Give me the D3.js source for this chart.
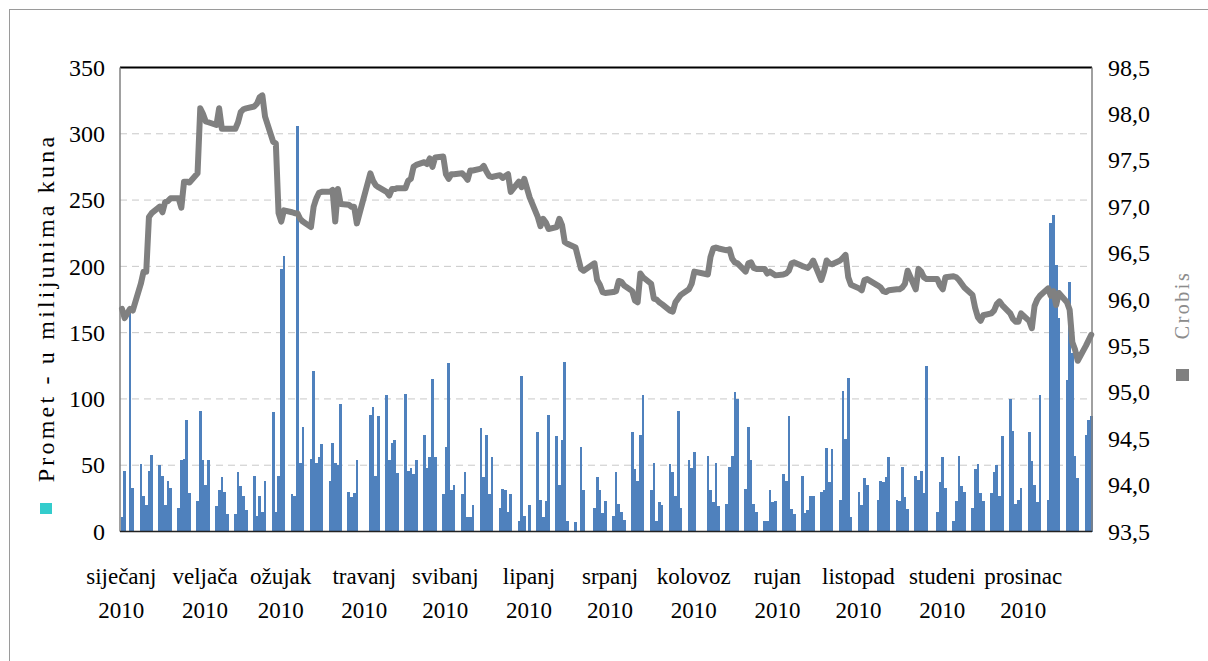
<!DOCTYPE html>
<html>
<head>
<meta charset="utf-8">
<script src="https://cdnjs.cloudflare.com/ajax/libs/d3/7.8.5/d3.min.js"></script>
<style>
  body { margin: 0; background: #fff; }
  svg text { font-family: "Liberation Serif", "Times New Roman", serif; }
</style>
</head>
<body>
<script>
(function() {

  // months on the axis and the year line under them
  const months = ["siječanj", "veljača", "ožujak", "travanj", "svibanj", "lipanj",
                  "srpanj", "kolovoz", "rujan", "listopad", "studeni", "prosinac"];
  const yearLabel = "2010";

  // days with no trading (holidays, exchange closed)
  const closedDays = ["2010-01-06", "2010-04-02", "2010-04-05", "2010-06-03", "2010-06-22",
                      "2010-06-25", "2010-08-05", "2010-08-06", "2010-10-08", "2010-11-01"];

  // daily turnover, million kuna (one row per month)
  const turnover = [
    [11, 46, 168, 33, 51, 27, 20, 46, 58, 50, 42, 20, 38, 33, 18, 54, 55, 84, 29],
    [23, 91, 54, 35, 54, 19, 31, 41, 30, 13, 13, 45, 34, 27, 16, 42, 12, 27, 15, 38],
    [90, 15, 42, 198, 208, 28, 27, 306, 52, 79, 55, 121, 52, 56, 66, 38, 67, 52, 50, 96, 30, 26, 29],
    [54, 88, 94, 42, 87, 103, 54, 67, 69, 44, 104, 46, 48, 43, 54, 73, 48, 56, 115, 56],
    [28, 64, 127, 31, 35, 28, 45, 11, 11, 20, 78, 41, 73, 28, 56, 18, 32, 31, 15, 28, 8],
    [117, 12, 20, 75, 24, 11, 23, 88, 72, 35, 69, 128, 8, 7, 64, 31, 18, 41, 31],
    [14, 23, 12, 45, 21, 15, 9, 75, 47, 38, 73, 103, 31, 52, 8, 22, 20, 51, 45, 27, 91, 18],
    [54, 48, 60, 57, 31, 22, 52, 19, 21, 49, 57, 105, 100, 32, 79, 54, 21, 15, 8, 8],
    [31, 22, 23, 43, 38, 87, 17, 13, 42, 14, 16, 27, 27, 30, 31, 63, 37, 62, 24, 106, 70, 116],
    [11, 30, 20, 40, 35, 24, 38, 37, 41, 56, 24, 23, 49, 26, 17, 42, 39, 46, 29, 125],
    [15, 37, 56, 33, 8, 23, 57, 34, 30, 18, 47, 51, 29, 23, 29, 45, 50, 27, 72, 100, 76],
    [21, 24, 33, 75, 53, 35, 22, 103, 24, 233, 239, 201, 161, 114, 188, 135, 57, 40, 73, 84, 87]
  ];

  // Crobis index, same days
  const crobis = [
    [95.9, 95.8, 95.9, 95.88, 96.17, 96.3, 96.3, 96.89, 96.93, 97.0, 96.94, 97.05, 97.06, 97.09, 97.09, 96.99, 97.27, 97.27, 97.26],
    [97.36, 98.06, 98.0, 97.92, 97.91, 97.88, 98.06, 97.84, 97.84, 97.84, 97.84, 97.91, 98.02, 98.05, 98.06, 98.08, 98.11, 98.18, 98.2, 97.97],
    [97.7, 97.68, 96.93, 96.84, 96.96, 96.94, 96.93, 96.93, 96.87, 96.84, 96.78, 97.0, 97.09, 97.15, 97.16, 97.16, 97.18, 96.84, 97.19, 97.03, 97.02, 97.0, 97.0],
    [96.82, 97.36, 97.28, 97.23, 97.21, 97.16, 97.12, 97.19, 97.19, 97.2, 97.2, 97.28, 97.3, 97.43, 97.45, 97.48, 97.46, 97.52, 97.43, 97.53],
    [97.54, 97.35, 97.3, 97.35, 97.35, 97.36, 97.33, 97.29, 97.39, 97.39, 97.41, 97.44, 97.38, 97.33, 97.32, 97.34, 97.31, 97.33, 97.35, 97.16, 97.27],
    [97.21, 97.3, 97.1, 96.89, 96.79, 96.87, 96.83, 96.76, 96.78, 96.87, 96.8, 96.62, 96.6, 96.56, 96.33, 96.31, 96.39, 96.21, 96.16],
    [96.08, 96.07, 96.08, 96.09, 96.2, 96.19, 96.15, 96.09, 95.99, 95.97, 96.28, 96.24, 96.17, 96.01, 96.0, 95.97, 95.95, 95.88, 95.87, 95.97, 96.01, 96.05],
    [96.11, 96.17, 96.3, 96.27, 96.46, 96.55, 96.56, 96.55, 96.53, 96.54, 96.44, 96.4, 96.39, 96.3, 96.39, 96.4, 96.34, 96.33, 96.33, 96.28],
    [96.3, 96.28, 96.26, 96.27, 96.28, 96.31, 96.39, 96.4, 96.36, 96.35, 96.34, 96.37, 96.42, 96.21, 96.3, 96.42, 96.39, 96.38, 96.42, 96.45, 96.48, 96.24],
    [96.16, 96.12, 96.1, 96.21, 96.22, 96.15, 96.13, 96.09, 96.08, 96.1, 96.11, 96.11, 96.13, 96.17, 96.31, 96.11, 96.33, 96.3, 96.24, 96.22],
    [96.22, 96.15, 96.11, 96.24, 96.25, 96.24, 96.21, 96.17, 96.13, 96.05, 95.91, 95.81, 95.77, 95.83, 95.85, 95.88, 95.95, 95.98, 95.94, 95.85, 95.79],
    [95.76, 95.76, 95.85, 95.77, 95.69, 95.93, 96.0, 96.04, 96.12, 96.04, 96.09, 95.94, 96.07, 95.97, 95.89, 95.54, 95.46, 95.34, 95.5, 95.56, 95.62]
  ];

  const leftTicks = [0, 50, 100, 150, 200, 250, 300, 350];
  const rightTicks = [93.5, 94.0, 94.5, 95.0, 95.5, 96.0, 96.5, 97.0, 97.5, 98.0, 98.5];

  /* build the trading days list */
  const firstDay = new Date(2010, 0, 4),
        lastDay = new Date(2010, 11, 29);
  const closed = new Set(closedDays);
  const fmt = d3.timeFormat("%Y-%m-%d");
  const days = d3.timeDay.range(firstDay, d3.timeDay.offset(lastDay, 1))
    .filter(d => d.getDay() !== 0 && d.getDay() !== 6 && !closed.has(fmt(d)));

  const flatT = turnover.flat(), flatC = crobis.flat();
  if (days.length !== flatT.length || days.length !== flatC.length) {
    console.error("length mismatch", days.length, flatT.length, flatC.length);
  }
  const data = days.map((d, i) => ({date: d, t: flatT[i], c: flatC[i]}));

  /* chart */
  const W = 1208, H = 661;
  const plot = {left: 120, right: 1092, top: 67.5, bottom: 531.5};

  const x = d3.scaleTime()
      .domain([firstDay, d3.timeDay.offset(lastDay, 1)])
      .range([plot.left, plot.right]);
  const slot = x(d3.timeDay.offset(firstDay, 1)) - x(firstDay);

  const yL = d3.scaleLinear().domain([0, 350]).range([plot.bottom, plot.top]);
  const yR = d3.scaleLinear().domain([93.5, 98.5]).range([plot.bottom, plot.top]);

  const svg = d3.select("body").append("svg")
      .attr("width", W)
      .attr("height", H);

  // outer chart frame (only top and left show in the picture)
  svg.append("rect")
      .attr("x", 9.5).attr("y", 9.5)
      .attr("width", W + 20).attr("height", H + 20)
      .attr("fill", "#fff")
      .attr("stroke", "#9a9a9a")
      .attr("stroke-width", 1);

  // gridlines
  svg.append("g")
    .selectAll("line")
    .data(leftTicks.filter(v => v > 0 && v < 350))
    .enter().append("line")
      .attr("x1", plot.left).attr("x2", plot.right)
      .attr("y1", d => yL(d)).attr("y2", d => yL(d))
      .attr("stroke", "#c8c8c8")
      .attr("stroke-width", 1)
      .attr("stroke-dasharray", "7,5");

  // bars
  svg.append("g")
      .attr("shape-rendering", "crispEdges")
    .selectAll("rect")
    .data(data)
    .enter().append("rect")
      .attr("x", d => x(d.date) + 0.6)
      .attr("y", d => yL(d.t))
      .attr("width", slot)
      .attr("height", d => yL(0) - yL(d.t))
      .attr("fill", "#4f81bd");

  // Crobis line
  const line = d3.line()
      .x(d => x(d.date) + 0.6 + slot / 2)
      .y(d => yR(d.c));

  svg.append("path")
      .datum(data)
      .attr("d", line)
      .attr("fill", "none")
      .attr("stroke", "#808080")
      .attr("stroke-width", 6)
      .attr("stroke-linejoin", "round")
      .attr("stroke-linecap", "round");

  // plot frame
  svg.append("line")
      .attr("x1", plot.left).attr("x2", plot.right)
      .attr("y1", plot.top).attr("y2", plot.top)
      .attr("stroke", "#000").attr("stroke-width", 2);
  svg.append("line")
      .attr("x1", plot.left).attr("x2", plot.left)
      .attr("y1", plot.top).attr("y2", plot.bottom)
      .attr("stroke", "#808080").attr("stroke-width", 1.5);
  svg.append("line")
      .attr("x1", plot.right).attr("x2", plot.right)
      .attr("y1", plot.top).attr("y2", plot.bottom)
      .attr("stroke", "#808080").attr("stroke-width", 1.5);
  svg.append("line")
      .attr("x1", plot.left).attr("x2", plot.right)
      .attr("y1", plot.bottom).attr("y2", plot.bottom)
      .attr("stroke", "#222").attr("stroke-width", 1.5);

  // left axis
  const axL = svg.append("g")
      .attr("transform", "translate(" + plot.left + ",0)")
      .call(d3.axisLeft(yL).tickValues(leftTicks).tickSize(0).tickPadding(15));
  axL.select(".domain").remove();
  axL.selectAll("text")
      .attr("font-family", "Liberation Serif")
      .attr("font-size", 24)
      .attr("fill", "#000");

  // right axis
  const axR = svg.append("g")
      .attr("transform", "translate(" + plot.right + ",0)")
      .call(d3.axisRight(yR).tickValues(rightTicks).tickSize(0).tickPadding(16)
        .tickFormat(d => d3.format(".1f")(d).replace(".", ",")));
  axR.select(".domain").remove();
  axR.selectAll("text")
      .attr("font-family", "Liberation Serif")
      .attr("font-size", 24)
      .attr("fill", "#000");

  // month labels at the 4th of each month
  const xl = svg.append("g");
  months.forEach(function(m, i) {
    const cx = x(new Date(2010, i, 4)) + slot / 2;
    xl.append("text")
        .attr("x", cx).attr("y", 584)
        .attr("text-anchor", "middle")
        .attr("font-size", 23)
        .text(m);
    xl.append("text")
        .attr("x", cx).attr("y", 618)
        .attr("text-anchor", "middle")
        .attr("font-size", 23)
        .text(yearLabel);
  });

  // left axis title with its legend key
  svg.append("text")
      .attr("transform", "translate(54,308)rotate(-90)")
      .attr("text-anchor", "middle")
      .attr("font-size", 24)
      .attr("letter-spacing", "3.2px")
      .text("Promet - u milijunima kuna");
  svg.append("rect")
      .attr("x", 40).attr("y", 503)
      .attr("width", 12).attr("height", 11)
      .attr("fill", "#33cccc");

  // right legend
  svg.append("text")
      .attr("transform", "translate(1189,305)rotate(-90)")
      .attr("text-anchor", "middle")
      .attr("font-family", "Open Sans")
      .attr("font-size", 20)
      .attr("letter-spacing", "2.5px")
      .attr("fill", "#8c8c8c")
      .text("Crobis");
  svg.append("rect")
      .attr("x", 1176).attr("y", 369)
      .attr("width", 13).attr("height", 12)
      .attr("fill", "#808080");

})();
</script>
</body>
</html>
